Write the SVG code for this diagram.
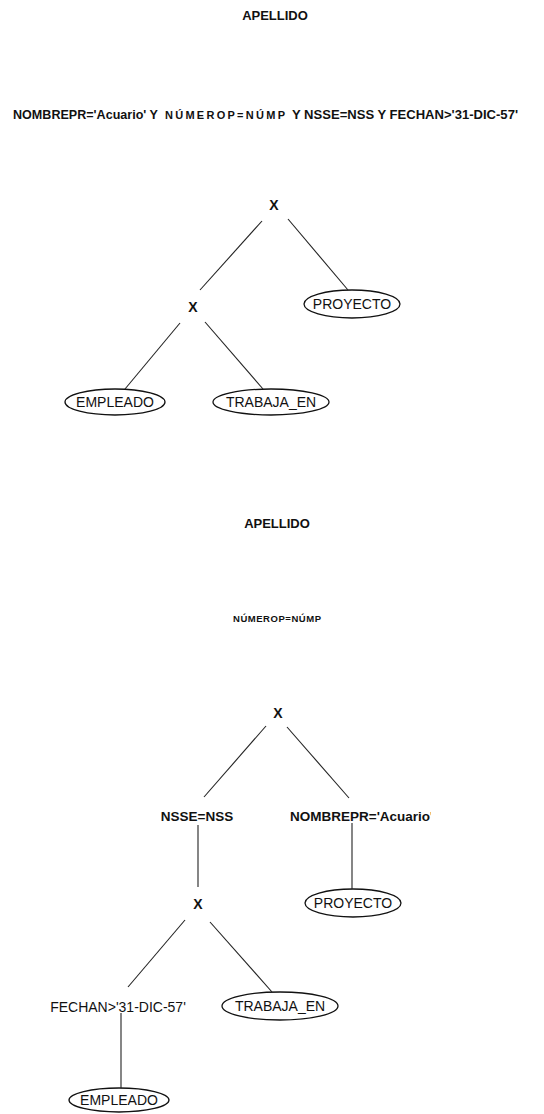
<svg xmlns="http://www.w3.org/2000/svg" width="544" height="1114" viewBox="0 0 544 1114">
  <style>
    .hdr { font-family: "Liberation Sans", Arial, sans-serif; font-weight: bold; font-size: 13px; fill: #111; }
    .cond { font-family: "Liberation Sans", Arial, sans-serif; font-weight: bold; font-size: 12.5px; fill: #111; }
    .op { font-family: "Liberation Sans", Arial, sans-serif; font-weight: bold; font-size: 14px; fill: #111; text-anchor: middle; }
    .sel { font-family: "Liberation Sans", Arial, sans-serif; font-weight: bold; font-size: 13.5px; fill: #111; }
    .rel { font-family: "Liberation Sans", Arial, sans-serif; font-size: 14px; fill: #111; text-anchor: middle; }
    .oval { fill: #fff; stroke: #111; stroke-width: 1.3; }
    .edge { stroke: #222; stroke-width: 1.1; fill: none; }
  </style>
  <defs>
    <clipPath id="cut-right">
      <rect x="280" y="800" width="151" height="30"/>
    </clipPath>
  </defs>
  <rect width="544" height="1114" fill="#fff"/>

  <!-- Tree 1: projection, combined selection, two cartesian products -->
  <g id="proj1"><text class="hdr" x="275" y="19.7" text-anchor="middle">APELLIDO</text></g>
  <g id="sel-all">
    <text class="cond" x="13" y="118.5" textLength="145" lengthAdjust="spacingAndGlyphs">NOMBREPR='Acuario' Y</text>
    <text class="cond" x="165" y="118.5" style="font-size:11px" textLength="120" lengthAdjust="spacing">NÚMEROP=NÚMP</text>
    <text class="cond" x="292" y="118.5" textLength="226" lengthAdjust="spacingAndGlyphs">Y NSSE=NSS Y FECHAN&gt;'31-DIC-57'</text>
  </g>
  <g id="x1"><text class="op" x="274" y="210">X</text></g>
  <g id="x2"><text class="op" x="193" y="312">X</text></g>
  <g id="proyecto1">
    <ellipse class="oval" cx="352" cy="304" rx="48" ry="14"/>
    <text class="rel" x="352" y="309">PROYECTO</text>
  </g>
  <g id="empleado1">
    <ellipse class="oval" cx="115" cy="402" rx="50" ry="13"/>
    <text class="rel" x="115" y="407">EMPLEADO</text>
  </g>
  <g id="trabaja1">
    <ellipse class="oval" cx="271" cy="402" rx="58" ry="13"/>
    <text class="rel" x="271" y="407">TRABAJA_EN</text>
  </g>

  <!-- Tree 2: selections pushed down -->
  <g id="proj2"><text class="hdr" x="277" y="527.7" text-anchor="middle">APELLIDO</text></g>
  <g id="sel-num"><text class="cond" x="233" y="622" style="font-size:9.5px" textLength="88" lengthAdjust="spacing">NÚMEROP=NÚMP</text></g>
  <g id="x3"><text class="op" x="278" y="718">X</text></g>
  <g id="sel-nss"><text class="sel" x="197" y="820.8" text-anchor="middle">NSSE=NSS</text></g>
  <g id="sel-nombre"><text class="sel" x="290" y="820.8" clip-path="url(#cut-right)">NOMBREPR='Acuario'</text></g>
  <g id="x4"><text class="op" x="198" y="909">X</text></g>
  <g id="proyecto2">
    <ellipse class="oval" cx="353" cy="903" rx="48" ry="14"/>
    <text class="rel" x="353" y="908">PROYECTO</text>
  </g>
  <g id="sel-fecha"><text class="rel" x="118" y="1012">FECHAN&gt;'31-DIC-57'</text></g>
  <g id="trabaja2">
    <ellipse class="oval" cx="280" cy="1006" rx="58" ry="14"/>
    <text class="rel" x="280" y="1011">TRABAJA_EN</text>
  </g>
  <g id="empleado2">
    <ellipse class="oval" cx="119" cy="1100" rx="50" ry="12"/>
    <text class="rel" x="119" y="1105">EMPLEADO</text>
  </g>

  <g id="connectors">
    <line class="edge" x1="262" y1="221" x2="200" y2="290"/>
    <line class="edge" x1="288" y1="219" x2="348" y2="290"/>
    <line class="edge" x1="180" y1="323" x2="125" y2="389"/>
    <line class="edge" x1="205" y1="322" x2="263" y2="389"/>

    <line class="edge" x1="266" y1="726" x2="204" y2="797"/>
    <line class="edge" x1="287" y1="727" x2="349" y2="798"/>
    <line class="edge" x1="198" y1="825" x2="198" y2="887"/>
    <line class="edge" x1="352" y1="823" x2="352" y2="889"/>
    <line class="edge" x1="185" y1="920" x2="128" y2="987"/>
    <line class="edge" x1="210" y1="922" x2="272" y2="992"/>
    <line class="edge" x1="121" y1="1013" x2="121" y2="1088"/>
  </g>
</svg>
